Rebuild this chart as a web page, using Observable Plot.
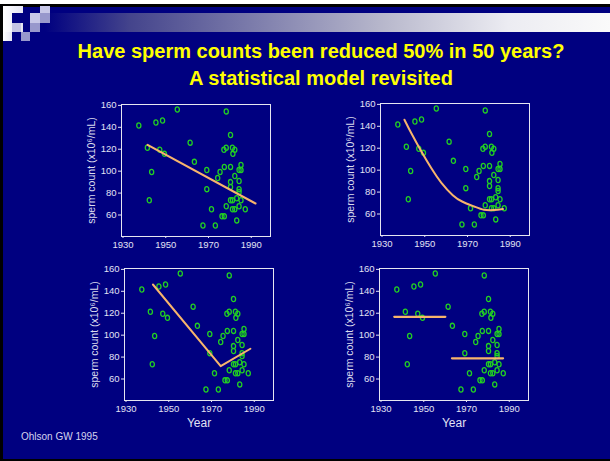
<!DOCTYPE html>
<html>
<head>
<meta charset="utf-8">
<script src="https://cdn.jsdelivr.net/npm/d3@7"></script>
<script src="https://cdn.jsdelivr.net/npm/@observablehq/plot@0.6"></script>
<style>
  html, body { margin: 0; padding: 0; }
  body { width: 610px; height: 461px; background: #000080; position: relative; overflow: hidden;
         font-family: "Liberation Sans", Arial, sans-serif; }
  .abs { position: absolute; }
  #title { left: 21px; width: 600px; top: 38px; text-align: center; color: #ffff00; font-weight: bold;
           font-size: 20px; line-height: 27px; }
  #caption { left: 21px; top: 431px; color: #d4d4ee; font-size: 10px; line-height: 12px; }
</style>
</head>
<body>
<div class="abs" style="left:0;top:0;width:610px;height:4px;background:#ffffff"></div>
<div class="abs" style="left:0;top:4px;width:610px;height:3px;background:#000000"></div>
<div class="abs" style="left:0;top:4px;width:3px;height:457px;background:#000000"></div>
<div class="abs" style="left:0;top:459px;width:610px;height:2px;background:#000000"></div>
<div class="abs" style="left:45px;top:13px;width:565px;height:19px;background:linear-gradient(to right,#000080 0%,#44448c 15%,#b8b8cc 60%,#ececf2 82%,#fafafa 100%)"></div>
<div class="abs" style="left:3px;top:6px;width:20px;height:26px;background:linear-gradient(to right,#ffffff,#e4e4f2)"></div>
<div class="abs" style="left:3px;top:32px;width:9px;height:9px;background:linear-gradient(to right,#ffffff,#e4e4f2)"></div>
<div class="abs" style="left:12px;top:13px;width:11px;height:10px;background:#000080"></div>
<div class="abs" style="left:12px;top:23px;width:9px;height:9px;background:#c4c4e4"></div>
<div class="abs" style="left:21px;top:32px;width:9px;height:9px;background:#9898cc"></div>
<div class="abs" style="left:30px;top:13px;width:10px;height:10px;background:#c8c8e8"></div>
<div class="abs" style="left:30px;top:23px;width:10px;height:9px;background:#9898cc"></div>
<div class="abs" style="left:40px;top:6px;width:10px;height:7px;background:#c8c8e8"></div>
<div class="abs" style="left:40px;top:13px;width:10px;height:10px;background:#9898cc"></div>

<div id="title" class="abs">Have sperm counts been reduced 50% in 50 years?<br>A statistical model revisited</div>
<div id="caption" class="abs">Ohlson GW 1995</div>

<script>
// ---- data ----
const years = [1937.4,1941.4,1943.4,1942.3,1945.4,1948.5,1947.2,1949.4,1955.4,1961.4,1963.4,1969.2,1969.2,1971.4,1967.4,1973.2,1974.3,1975.4,1977.4,1976.3,1977.4,1978.3,1978.3,1977.2,1978.3,1980.3,1980.3,1980.3,1980.3,1980.3,1981.2,1981.4,1982.3,1982.3,1981.2,1981.2,1982.3,1983.2,1983.2,1984.3,1984.3,1984.3,1984.3,1984.3,1985.2,1985.2,1985.2,1987.2];
const counts = [141.6,121.3,99.3,73.5,144.4,146.2,119.5,115.8,156.3,126,108.5,101,83.6,65.2,50.5,50.5,93.7,99.3,103.9,58.8,58.8,68,154.5,119.5,121.3,133,103.9,90,85.5,73.5,121.3,115.8,119.5,95.6,73.5,65.2,65.2,55.1,75.3,101,91,83.6,80.9,68,105.7,101,73.5,65.2];

// model 1: linear
const linYears = [1941.5, 1992];
const linValues = [124, 70.5];
// model 2: smooth curve
const curveYears = [1940.5, 1943.8, 1948.5, 1953.1, 1957.7, 1963.1, 1967.7, 1973.1, 1977.7, 1982.3, 1986.6];
const curveValues = [146, 133.4, 116.8, 101.7, 88.7, 77.2, 71.2, 66.9, 63.9, 63.6, 64.5];
// model 3: broken line
const brokenYears = [1942.6, 1974.3, 1988.2];
const brokenValues = [146.2, 71.7, 87.6];
// model 4: two levels
const stepYears = [1936.2, 1960.1, 1963.2, 1987.1];
const stepValues = [116.7, 116.7, 78.9, 78.9];
const stepGroups = ["before", "before", "after", "after"];

const xTicks = [1930, 1950, 1970, 1990];
const yTicks = [60, 80, 100, 120, 140, 160];
const yLabel = "sperm count (x10\u2076/mL)";
const xLabel = "Year";

// ---- helpers ----
const points = years.map((y, i) => ({year: y, count: counts[i]}));
const toRows = (xs, ys, zs) => xs.map((x, i) => ({year: x, value: ys[i], z: zs ? zs[i] : "a"}));

const oval = {
  draw(ctx, size) {
    const r = Math.sqrt(size / Math.PI);
    const rx = r * 0.8, ry = r, k = 0.5523;
    ctx.moveTo(rx, 0);
    ctx.bezierCurveTo(rx, ry * k, rx * k, ry, 0, ry);
    ctx.bezierCurveTo(-rx * k, ry, -rx, ry * k, -rx, 0);
    ctx.bezierCurveTo(-rx, -ry * k, -rx * k, -ry, 0, -ry);
    ctx.bezierCurveTo(rx * k, -ry, rx, -ry * k, rx, 0);
    ctx.closePath();
  }
};

const FW = 149, FH = 132, ML = 50, MR = 2, MT = 2;
const lineColor = "#f7b46c";

function panel(modelMarks, fx, fy, showYear) {
  const MB = showYear ? 36 : 16;
  const svg = Plot.plot({
    width: ML + FW + MR,
    height: MT + FH + MB,
    marginLeft: ML, marginRight: MR, marginTop: MT, marginBottom: MB,
    style: {background: "transparent", color: "#e2e2f4", fontFamily: "'Liberation Sans', Arial, sans-serif",
            fontSize: "9.5px", overflow: "visible"},
    x: {domain: [1929.3, 1999], ticks: xTicks, tickFormat: d => String(d), tickSize: 2, tickPadding: 3, label: null},
    y: {domain: [40.4, 160.8], ticks: yTicks, tickSize: 3, tickPadding: 2, label: null},
    marks: [
      Plot.frame({stroke: "#e6e6f0", strokeWidth: 1}),
      Plot.dot(points, {x: "year", y: "count", symbol: oval, r: 2.6, stroke: "#22d022", strokeWidth: 1.3, fill: "none"}),
      ...modelMarks,
      Plot.text([yLabel], {text: d => d, frameAnchor: "left", textAnchor: "middle", lineAnchor: "middle", rotate: -90, dx: -30, fontSize: 10.5, fill: "#dcdcee"}),
      showYear ? Plot.text([xLabel], {text: d => d, frameAnchor: "bottom", textAnchor: "middle", dy: 26, fontSize: 12, fill: "#e2e2f4"}) : null
    ]
  });
  svg.style.position = "absolute";
  svg.style.left = (fx - ML) + "px";
  svg.style.top = (fy - MT) + "px";
  document.body.appendChild(svg);
}

panel([Plot.line(toRows(linYears, linValues), {x: "year", y: "value", stroke: lineColor, strokeWidth: 2})], 121, 104, false);
panel([Plot.line(toRows(curveYears, curveValues), {x: "year", y: "value", curve: "natural", stroke: lineColor, strokeWidth: 2})], 380, 103, false);
panel([Plot.line(toRows(brokenYears, brokenValues), {x: "year", y: "value", stroke: lineColor, strokeWidth: 2})], 124, 268, true);
panel([Plot.line(toRows(stepYears, stepValues, stepGroups), {x: "year", y: "value", z: "z", stroke: lineColor, strokeWidth: 2.2})], 379, 268, true);
</script>
</body>
</html>
